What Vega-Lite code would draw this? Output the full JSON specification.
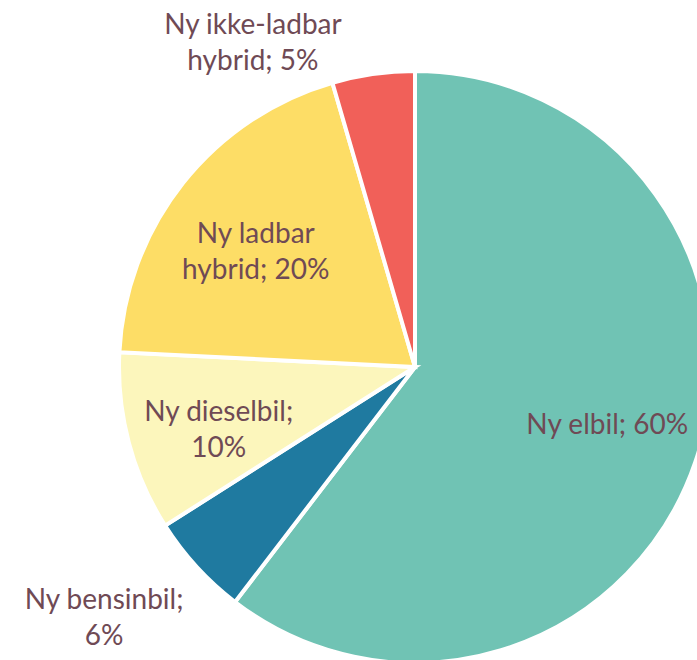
{
  "$schema": "https://vega.github.io/schema/vega-lite/v6.json",
  "autosize": "none",
  "width": 592,
  "height": 592,
  "padding": {"left": 119, "top": 71, "right": 0, "bottom": 0},
  "background": "white",
  "config": {"view": {"stroke": null}},
  "data": {
    "values": [
      {"i": 1, "category": "Ny elbil", "value": 60.4, "label": "Ny elbil; 60%"},
      {"i": 2, "category": "Ny bensinbil", "value": 5.6, "label": "Ny bensinbil;\n6%"},
      {"i": 3, "category": "Ny dieselbil", "value": 9.8, "label": "Ny dieselbil;\n10%"},
      {"i": 4, "category": "Ny ladbar hybrid", "value": 19.7, "label": "Ny ladbar\nhybrid; 20%"},
      {"i": 5, "category": "Ny ikke-ladbar hybrid", "value": 4.5, "label": "Ny ikke-ladbar\nhybrid; 5%"}
    ]
  },
  "encoding": {
    "theta": {"field": "value", "type": "quantitative", "stack": true},
    "order": {"field": "i", "type": "quantitative"}
  },
  "layer": [
    {
      "mark": {"type": "arc", "stroke": "white", "strokeWidth": 4, "strokeJoin": "miter"},
      "encoding": {
        "color": {
          "field": "category",
          "type": "nominal",
          "scale": {
            "domain": ["Ny elbil", "Ny bensinbil", "Ny dieselbil", "Ny ladbar hybrid", "Ny ikke-ladbar hybrid"],
            "range": ["#70C3B4", "#1F7AA0", "#FCF6BC", "#FDDD66", "#F16059"]
          },
          "legend": null
        }
      }
    },
    {
      "mark": {"type": "text", "radius": 203, "dy": -6, "font": "Lato", "fontSize": 28, "lineHeight": 36, "lineBreak": "\n", "color": "#6F4A55", "align": "center", "baseline": "middle"},
      "encoding": {
        "text": {"condition": {"test": "datum.value >= 8", "field": "label"}, "value": ""}
      }
    },
    {
      "mark": {"type": "text", "radius": 385, "dx": -27, "dy": -26, "font": "Lato", "fontSize": 28, "lineHeight": 36, "lineBreak": "\n", "color": "#6F4A55", "align": "center", "baseline": "middle"},
      "encoding": {
        "text": {"condition": {"test": "datum.category == 'Ny bensinbil'", "field": "label"}, "value": ""}
      }
    },
    {
      "mark": {"type": "text", "radius": 320, "dx": -117, "dy": -24, "font": "Lato", "fontSize": 28, "lineHeight": 36, "lineBreak": "\n", "color": "#6F4A55", "align": "center", "baseline": "middle"},
      "encoding": {
        "text": {"condition": {"test": "datum.category == 'Ny ikke-ladbar hybrid'", "field": "label"}, "value": ""}
      }
    }
  ]
}
